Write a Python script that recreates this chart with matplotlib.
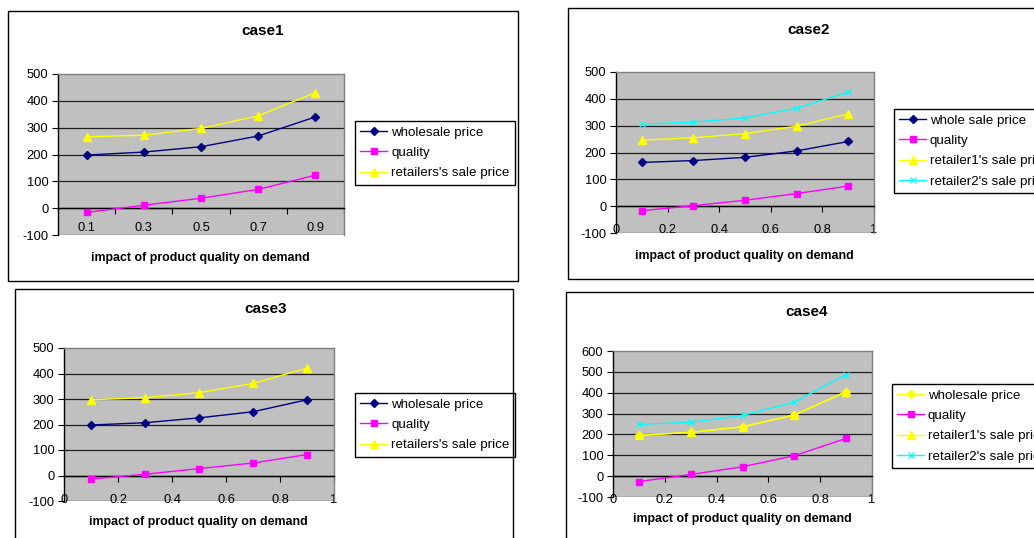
import matplotlib
matplotlib.use("Agg")
import matplotlib.pyplot as plt
from matplotlib.patches import Rectangle

plt.rcParams['font.family'] = ['Liberation Sans', 'DejaVu Sans']

W, H = 1034, 538

# ---- data ----
impact = [0.1, 0.3, 0.5, 0.7, 0.9]
impact_labels = ["0.1", "0.3", "0.5", "0.7", "0.9"]

c1_wholesale = [198, 209, 229, 269, 340]
c1_quality = [-16, 11, 37, 70, 123]
c1_retail = [266, 272, 297, 344, 431]

c2_wholesale = [163, 170, 182, 206, 241]
c2_quality = [-17, 2, 22, 47, 75]
c2_retail1 = [246, 255, 270, 298, 344]
c2_retail2 = [306, 313, 329, 365, 425]

c3_wholesale = [198, 207, 226, 250, 297]
c3_quality = [-14, 5, 27, 49, 82]
c3_retail = [297, 305, 325, 361, 421]

c4_wholesale = [195, 210, 236, 293, 405]
c4_quality = [-26, 8, 45, 98, 181]
c4_retail1 = [196, 210, 237, 293, 405]
c4_retail2 = [248, 258, 291, 355, 487]

NAVY, MAGENTA, YELLOW, CYAN = "#000080", "#FF00FF", "#FFFF00", "#00FFFF"
STY = {
    "D": dict(marker="D", ms=4.2),
    "s": dict(marker="s", ms=4.8),
    "^": dict(marker="^", ms=6.0),
    "x": dict(marker="x", ms=4.0, mew=0.9),
}

fig = plt.figure(figsize=(W / 100, H / 100), dpi=100)
fig.patch.set_facecolor("white")


def fx(x):
    return x / W


def fy(y):
    return 1 - y / H


def frame(x0, y0, x1, y1):
    fig.add_artist(Rectangle((fx(x0), fy(y1)), fx(x1 - x0), fy(y0) - fy(y1),
                             transform=fig.transFigure, fill=False,
                             edgecolor="black", lw=1.0, clip_on=False))


def panel(box, ylim, title, title_xy, xlabel_xy, series, legend_xy, categorical):
    x0, y0, x1, y1 = box
    ax = fig.add_axes([fx(x0), fy(y1), fx(x1 - x0), fy(y0) - fy(y1)])
    ax.set_facecolor("#C0C0C0")
    ymin, ymax = ylim
    yt = list(range(ymin, ymax + 1, 100))
    ax.set_ylim(ymin, ymax)
    ax.set_yticks(yt)
    ax.set_yticklabels([str(v) for v in yt])
    for v in yt[:-1]:
        ax.axhline(v, color="#202020", lw=0.9, zorder=1)

    for sp in ("top", "right"):
        ax.spines[sp].set_color("#808080")
        ax.spines[sp].set_linewidth(1.0)
    ax.spines["left"].set_color("black")
    ax.spines["left"].set_linewidth(1.0)
    ax.spines["bottom"].set_position(("data", 0))
    ax.spines["bottom"].set_color("black")
    ax.spines["bottom"].set_linewidth(1.0)

    ax.tick_params(axis="y", direction="out", length=4, width=0.8,
                   labelsize=9.3, pad=3)
    handles = []
    if categorical:
        n = len(impact)
        xs = [i + 0.5 for i in range(n)]
        ax.set_xlim(0, n)
        ax.set_xticks(range(n + 1))
        ax.set_xticklabels([""] * (n + 1))
        ax.set_xticks(xs, minor=True)
        ax.set_xticklabels(impact_labels, minor=True)
        ax.tick_params(axis="x", which="major", direction="out", length=4, width=0.8)
        ax.tick_params(axis="x", which="minor", length=0, labelsize=9.3, pad=10)
    else:
        xs = impact
        ax.set_xlim(0, 1)
        xt = [0, 0.2, 0.4, 0.6, 0.8, 1.0]
        ax.set_xticks(xt)
        ax.set_xticklabels(["0", "0.2", "0.4", "0.6", "0.8", "1"])
        ax.tick_params(axis="x", direction="out", length=4, width=0.8,
                       labelsize=9.3, pad=9)

    for label, vals, color, mk in series:
        ln, = ax.plot(xs, vals, color=color, lw=1.0, mfc=color, mec=color,
                      zorder=3, clip_on=False, **STY[mk])
        handles.append(ln)

    fig.text(fx(title_xy[0]), fy(title_xy[1]), title, ha="center", va="center",
             fontsize=11, fontweight="bold")
    fig.text(fx(xlabel_xy[0]), fy(xlabel_xy[1]), "impact of product quality on demand",
             ha="center", va="center", fontsize=8.9, fontweight="bold")

    leg = ax.legend(handles, [s[0] for s in series], loc="upper left",
                    bbox_to_anchor=(fx(legend_xy[0]), fy(legend_xy[1])),
                    bbox_transform=fig.transFigure, borderaxespad=0,
                    frameon=True, fancybox=False, edgecolor="black",
                    facecolor="white", framealpha=1, fontsize=9.6,
                    handlelength=2.0, handletextpad=0.3, labelspacing=0.6,
                    borderpad=0.4)
    leg.get_frame().set_linewidth(1.0)
    return ax


# case 1
frame(8, 11, 518, 281)
panel((58, 74, 344, 235), (-100, 500), "case1", (263, 31), (200, 258),
      [("wholesale price", c1_wholesale, NAVY, "D"),
       ("quality", c1_quality, MAGENTA, "s"),
       ("retailers's sale price", c1_retail, YELLOW, "^")],
      (355, 121), True)

# case 2
frame(568, 8, 1040, 279)
panel((616, 72, 874, 233), (-100, 500), "case2", (809, 30), (744, 256),
      [("whole sale price", c2_wholesale, NAVY, "D"),
       ("quality", c2_quality, MAGENTA, "s"),
       ("retailer1's sale price", c2_retail1, YELLOW, "^"),
       ("retailer2's sale price", c2_retail2, CYAN, "x")],
      (894, 109), False)

# case 3
frame(15, 289, 513, 545)
panel((64, 348, 334, 501), (-100, 500), "case3", (266, 309), (198, 522),
      [("wholesale price", c3_wholesale, NAVY, "D"),
       ("quality", c3_quality, MAGENTA, "s"),
       ("retailers's sale price", c3_retail, YELLOW, "^")],
      (355, 393), False)

# case 4
frame(566, 292, 1040, 545)
panel((613, 351, 872, 497), (-100, 600), "case4", (807, 312), (742, 519),
      [("wholesale price", c4_wholesale, YELLOW, "D"),
       ("quality", c4_quality, MAGENTA, "s"),
       ("retailer1's sale price", c4_retail1, YELLOW, "^"),
       ("retailer2's sale price", c4_retail2, CYAN, "x")],
      (892, 384), False)

fig.savefig("out.png", dpi=100)
